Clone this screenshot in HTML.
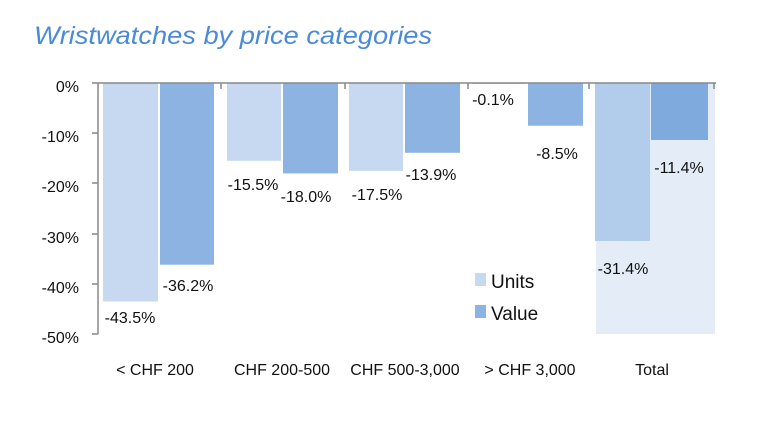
<!DOCTYPE html>
<html><head><meta charset="utf-8"><style>
body{margin:0;background:#fff;width:760px;height:433px;overflow:hidden}
svg{display:block}
text{font-family:"Liberation Sans",sans-serif;fill:#111}
</style></head><body>
<svg width="760" height="433" viewBox="0 0 760 433">
<text x="34" y="44" font-size="25" font-style="italic" textLength="398" lengthAdjust="spacingAndGlyphs" style="fill:#4a8ad8">Wristwatches by price categories</text>
<rect x="596" y="83" width="119" height="251" fill="#e3ecf7"/>
<g>
<rect x="103" y="83" width="55" height="218.5" fill="#c6d9f1"/>
<rect x="160" y="83" width="54" height="181.7" fill="#8db3e2"/>
<rect x="227" y="83" width="54" height="77.8" fill="#c6d9f1"/>
<rect x="283" y="83" width="55" height="90.4" fill="#8db3e2"/>
<rect x="349" y="83" width="54" height="87.9" fill="#c6d9f1"/>
<rect x="405" y="83" width="55" height="69.8" fill="#8db3e2"/>
<rect x="472" y="83" width="54" height="1" fill="#c6d9f1"/>
<rect x="528" y="83" width="55" height="42.7" fill="#8db3e2"/>
<rect x="595" y="83" width="55" height="158" fill="#b1cdeb"/>
<rect x="651" y="83" width="57" height="57" fill="#7faadd"/>
</g>
<g stroke="#888" stroke-width="1.5">
<line x1="98" y1="83" x2="716" y2="83"/>
<line x1="98" y1="83" x2="98" y2="334"/>
<line x1="92" y1="83" x2="98" y2="83"/><line x1="92" y1="133" x2="98" y2="133"/><line x1="92" y1="183" x2="98" y2="183"/><line x1="92" y1="234" x2="98" y2="234"/><line x1="92" y1="284" x2="98" y2="284"/><line x1="92" y1="334" x2="98" y2="334"/>
<line x1="221" y1="83" x2="221" y2="89"/><line x1="345" y1="83" x2="345" y2="89"/><line x1="468" y1="83" x2="468" y2="89"/><line x1="589" y1="83" x2="589" y2="89"/><line x1="714" y1="83" x2="714" y2="89"/>
</g>
<g font-size="16" text-anchor="end">
<text x="79" y="92">0%</text><text x="79" y="142">-10%</text><text x="79" y="192">-20%</text><text x="79" y="243">-30%</text><text x="79" y="293">-40%</text><text x="79" y="343">-50%</text>
</g>
<g font-size="16" text-anchor="middle">
<text x="130" y="323">-43.5%</text><text x="188" y="291">-36.2%</text>
<text x="253" y="190">-15.5%</text><text x="306" y="202">-18.0%</text>
<text x="377" y="200">-17.5%</text><text x="431" y="180">-13.9%</text>
<text x="493" y="105">-0.1%</text><text x="557" y="159">-8.5%</text>
<text x="623" y="274">-31.4%</text><text x="679" y="173">-11.4%</text>
<text x="155" y="375">&lt; CHF 200</text><text x="282" y="375">CHF 200-500</text><text x="405" y="375">CHF 500-3,000</text><text x="530" y="375">&gt; CHF 3,000</text><text x="652" y="375">Total</text>
</g>
<rect x="475" y="273" width="11" height="13" fill="#c6d9f1"/>
<rect x="475" y="305" width="11" height="13" fill="#8db3e2"/>
<text x="491" y="288" font-size="19">Units</text>
<text x="491" y="320" font-size="19">Value</text>
</svg>
</body></html>
